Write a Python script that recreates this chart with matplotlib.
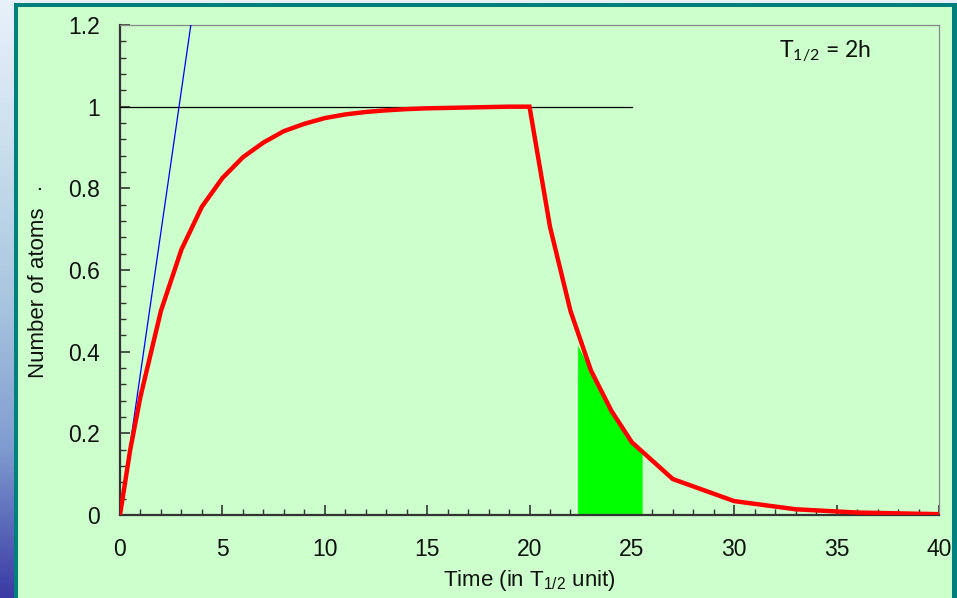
import numpy as np
import matplotlib
matplotlib.use("Agg")
import matplotlib.pyplot as plt
from matplotlib.patches import Rectangle
from matplotlib.colors import LinearSegmentedColormap
from matplotlib.ticker import MultipleLocator

plt.rcParams['font.family'] = ['Liberation Sans', 'DejaVu Sans']
plt.rcParams['mathtext.fontset'] = 'custom'
plt.rcParams['mathtext.rm'] = 'Liberation Sans'
plt.rcParams['mathtext.sf'] = 'Lato'

# ---- data ----
time = [0, 0.5, 1, 2, 3, 4, 5, 6, 7, 8, 9, 10, 11, 12, 13, 14, 15, 16, 17, 18, 19, 20,
        21, 22, 23, 24, 25, 27, 30, 33, 36, 40]
atoms = [0, 0.16, 0.29, 0.5, 0.65, 0.755, 0.825, 0.876, 0.912, 0.94, 0.958, 0.972, 0.981,
         0.987, 0.991, 0.994, 0.996, 0.997, 0.998, 0.999, 1.0, 1.0,
         0.706, 0.5, 0.354, 0.255, 0.178, 0.088, 0.034, 0.014, 0.006, 0.002]

tangent_t = [0, 3.46]
tangent_n = [0, 1.2]

saturation_t = [0, 25]
saturation_n = [1, 1]

fill_t = [22.35, 23, 24, 25, 25.5]
fill_top = [0.416, 0.352, 0.255, 0.178, 0.158]

x_ticks = [0, 5, 10, 15, 20, 25, 30, 35, 40]
y_ticks = [0, 0.2, 0.4, 0.6, 0.8, 1.0, 1.2]
y_tick_labels = ['0', '0.2', '0.4', '0.6', '0.8', '1', '1.2']

W, H = 957, 598
fig = plt.figure(figsize=(W / 100, H / 100), dpi=100)

# ---- background: gradient + teal frame + green panel ----
bg = fig.add_axes([0, 0, 1, 1], zorder=-10)
bg.set_axis_off()
cmap = LinearSegmentedColormap.from_list('bgc', ['#e8f1fa', '#c9deec', '#a9c6e0', '#7f9cd0', '#3a3aa4'])
grad = np.linspace(0, 1, 256).reshape(-1, 1)
bg.imshow(grad, aspect='auto', cmap=cmap, extent=[0, W, H, 0])
bg.set_xlim(0, W)
bg.set_ylim(H, 0)
bg.add_patch(Rectangle((14, 3), W - 14 + 2, H, facecolor='#00807c', edgecolor='none'))
bg.add_patch(Rectangle((18, 7), 952 - 18, H, facecolor='#ccffcc', edgecolor='none'))

# ---- main axes ----
ax = fig.add_axes([120 / W, 1 - 515 / H, (939 - 120) / W, (515 - 25) / H])
ax.set_facecolor('#ccffcc')

ax.fill_between(fill_t, 0, fill_top, color='#00ff00', linewidth=0, zorder=2)
ax.plot(saturation_t, saturation_n, color='black', linewidth=0.9, zorder=3)
ax.plot(tangent_t, tangent_n, color='#0000ff', linewidth=0.9, zorder=3)
ax.plot(time, atoms, color='#ff0000', linewidth=3.2, zorder=4, solid_joinstyle='miter')

ax.set_xlim(0, 40)
ax.set_ylim(0, 1.2)
ax.set_xticks(x_ticks)
ax.set_xticklabels([str(v) for v in x_ticks])
ax.set_yticks(y_ticks)
ax.set_yticklabels(y_tick_labels)
ax.xaxis.set_minor_locator(MultipleLocator(1))
ax.yaxis.set_minor_locator(MultipleLocator(0.04))

ax.tick_params(axis='both', which='major', direction='in', length=7, width=1.2,
               color='#333333', labelsize=16.5, labelcolor='#111111')
ax.tick_params(axis='both', which='minor', direction='in', length=4, width=1.0, color='#333333')
ax.tick_params(axis='x', which='major', pad=16.5)
ax.tick_params(axis='y', which='major', pad=14.5)

for s in ['left', 'bottom']:
    ax.spines[s].set_color('#333333')
    ax.spines[s].set_linewidth(1.6)
for s in ['top', 'right']:
    ax.spines[s].set_color('#888888')
    ax.spines[s].set_linewidth(0.9)

ax.set_xlabel(r'Time (in T$_{1/2}$ unit)', fontsize=16, color='#111111')
ax.xaxis.set_label_coords(0.5, -0.108)
ax.set_ylabel('Number of atoms', fontsize=16, color='#111111')
ax.yaxis.set_label_coords(-0.087, 0.453)
ax.text(-0.104, (515 - 186) / 490, '.', transform=ax.transAxes, rotation=90,
        ha='center', va='center', fontsize=16, color='#111111')

ax.text(32.2, 1.118, r'T$_{\mathsf{1/2}}$ = 2h', fontfamily='Lato', fontsize=16.5,
        ha='left', va='baseline', color='#111111')

fig.savefig('out.png', dpi=100)
